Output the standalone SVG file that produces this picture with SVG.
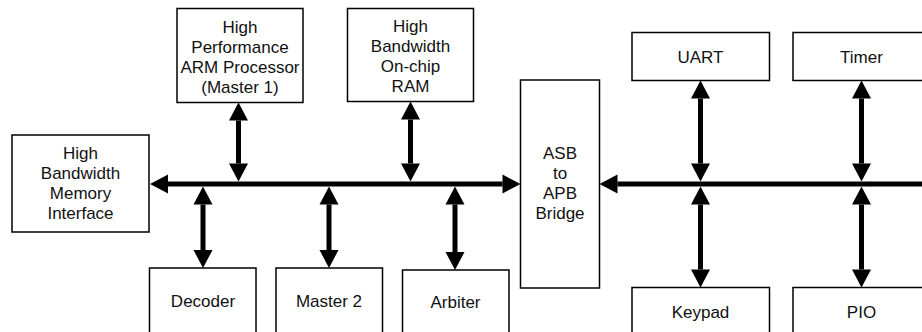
<svg xmlns="http://www.w3.org/2000/svg" width="922" height="332" viewBox="0 0 922 332">
  <style>
    .box { fill: #fff; stroke: #000; stroke-width: 1.5; }
    .lbl { font-family: "Liberation Sans", Arial, Helvetica, sans-serif; font-size: 17px; fill: #111; text-anchor: middle; }
    .bus { stroke: #000; stroke-width: 5; fill: none; }
    .two { marker-start: url(#head); marker-end: url(#head); }
    .one { marker-start: url(#head); }
  </style>
  <defs>
    <!-- solid triangular head; base sits on the line end, tip points outward -->
    <marker id="head" markerUnits="userSpaceOnUse" markerWidth="20" markerHeight="20"
            viewBox="0 -10 18 20" refX="0" refY="0" orient="auto-start-reverse">
      <path d="M0,-9.5 L18,0 L0,9.5 Z" fill="#000"/>
    </marker>
  </defs>
  <rect width="922" height="332" fill="#fff"/>

  <g id="connectors">
    <!-- main system bus: memory interface to bridge -->
    <line class="bus two" x1="168" y1="184" x2="502.5" y2="184"/>
    <!-- peripheral bus: bridge to right edge -->
    <line class="bus one" x1="617.5" y1="184" x2="922" y2="184"/>
    <!-- masters / slaves on the system bus -->
    <line class="bus two" x1="238.5" y1="120.5" x2="238.5" y2="163.5"/>
    <line class="bus two" x1="410.5" y1="119.5" x2="410.5" y2="163.5"/>
    <line class="bus two" x1="203" y1="204.5" x2="203" y2="250"/>
    <line class="bus two" x1="329" y1="204.5" x2="329" y2="250"/>
    <line class="bus two" x1="455" y1="204.5" x2="455" y2="252"/>
    <!-- peripherals on the peripheral bus -->
    <line class="bus two" x1="700.5" y1="98.5" x2="700.5" y2="163.5"/>
    <line class="bus two" x1="861.5" y1="98.5" x2="861.5" y2="163.5"/>
    <line class="bus two" x1="700.5" y1="204.5" x2="700.5" y2="269.5"/>
    <line class="bus two" x1="861.5" y1="204.5" x2="861.5" y2="269.5"/>
  </g>

  <g id="arm">
    <rect class="box" x="177" y="8.5" width="126" height="94"/>
    <text class="lbl" x="240" y="32.5">High</text>
    <text class="lbl" x="240" y="52.5">Performance</text>
    <text class="lbl" x="240" y="72.5">ARM Processor</text>
    <text class="lbl" x="240" y="92.5">(Master 1)</text>
  </g>

  <g id="ram">
    <rect class="box" x="347.5" y="8.5" width="126" height="93"/>
    <text class="lbl" x="410.5" y="32">High</text>
    <text class="lbl" x="410.5" y="52">Bandwidth</text>
    <text class="lbl" x="410.5" y="72">On-chip</text>
    <text class="lbl" x="410.5" y="92">RAM</text>
  </g>

  <g id="memory">
    <rect class="box" x="12" y="135" width="137" height="97"/>
    <text class="lbl" x="80.5" y="158.5">High</text>
    <text class="lbl" x="80.5" y="178.5">Bandwidth</text>
    <text class="lbl" x="80.5" y="198.5">Memory</text>
    <text class="lbl" x="80.5" y="218.5">Interface</text>
  </g>

  <g id="bridge">
    <rect class="box" x="520.5" y="80" width="79" height="208"/>
    <text class="lbl" x="560" y="158.5">ASB</text>
    <text class="lbl" x="560" y="178.5">to</text>
    <text class="lbl" x="560" y="198.5">APB</text>
    <text class="lbl" x="560" y="218.5">Bridge</text>
  </g>

  <g id="decoder">
    <rect class="box" x="149.5" y="268" width="106.5" height="80"/>
    <text class="lbl" x="203" y="307">Decoder</text>
  </g>

  <g id="master2">
    <rect class="box" x="276" y="268" width="106.5" height="80"/>
    <text class="lbl" x="329" y="307">Master 2</text>
  </g>

  <g id="arbiter">
    <rect class="box" x="402.5" y="270" width="106.5" height="80"/>
    <text class="lbl" x="455.5" y="307.5">Arbiter</text>
  </g>

  <g id="uart">
    <rect class="box" x="632" y="32.5" width="137.5" height="48"/>
    <text class="lbl" x="700.5" y="62.5">UART</text>
  </g>

  <g id="timer">
    <rect class="box" x="793" y="32.5" width="140" height="48"/>
    <text class="lbl" x="861.5" y="62.5">Timer</text>
  </g>

  <g id="keypad">
    <rect class="box" x="632" y="287.5" width="137.5" height="60"/>
    <text class="lbl" x="700.5" y="317.5">Keypad</text>
  </g>

  <g id="pio">
    <rect class="box" x="793" y="287.5" width="140" height="60"/>
    <text class="lbl" x="861.5" y="317.5">PIO</text>
  </g>
</svg>
